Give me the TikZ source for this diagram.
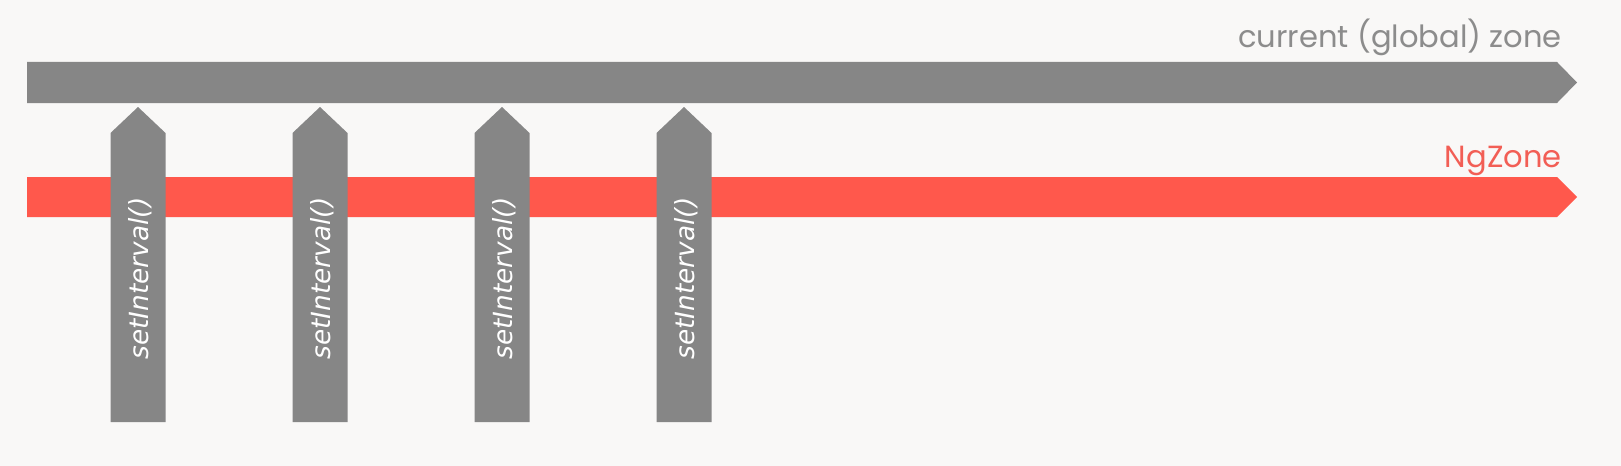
\documentclass[tikz,border=0pt]{standalone}
\usepackage{fontspec}
\usepackage{xcolor}
\newfontfamily\zonefont{Poppins}
\newfontfamily\callfont{DejaVu Sans}
\definecolor{bggray}{HTML}{F9F8F7}
\definecolor{bargray}{HTML}{868686}
\definecolor{barred}{HTML}{FF584C}
\definecolor{labelgray}{HTML}{8C8C8C}
\definecolor{labelred}{HTML}{F25E55}

\begin{document}
\begin{tikzpicture}[x=0.02cm, y=-0.02cm,
        zonelabel/.style={anchor=base east, inner sep=0pt, font=\zonefont\fontsize{17.4}{20}\selectfont},
        calllabel/.style={rotate=90, inner sep=0pt, text=white, font=\callfont\itshape\fontsize{15}{18}\selectfont}]
            \fill[bggray] (0, 0) rectangle (1621, 466);
            \useasboundingbox (0, 0) rectangle (1621, 466);

            %the two zones as long arrows
            \fill[bargray] (27, 62) -- (1557, 62) -- (1577, 82.5) -- (1557, 103) -- (27, 103) -- cycle;
            \fill[barred] (27, 177) -- (1557, 177) -- (1577, 197) -- (1557, 217) -- (27, 217) -- cycle;

            \node[zonelabel, text=labelgray] (global) at (1562, 48) {current (global) zone};
            \node[zonelabel, text=labelred] (ngzone) at (1562, 167) {NgZone};

            %the calls going up out of NgZone
            \foreach \cx/\name in {138/call1, 320/call2, 502/call3, 684/call4} {
                \fill[bargray] (\cx-27.5, 422) -- (\cx-27.5, 133) -- (\cx, 107) -- (\cx+27.5, 133) -- (\cx+27.5, 422) -- cycle;
                \node[calllabel] (\name) at (\cx+2, 278.5) {setInterval()};
            }

        \end{tikzpicture}
\end{document}
